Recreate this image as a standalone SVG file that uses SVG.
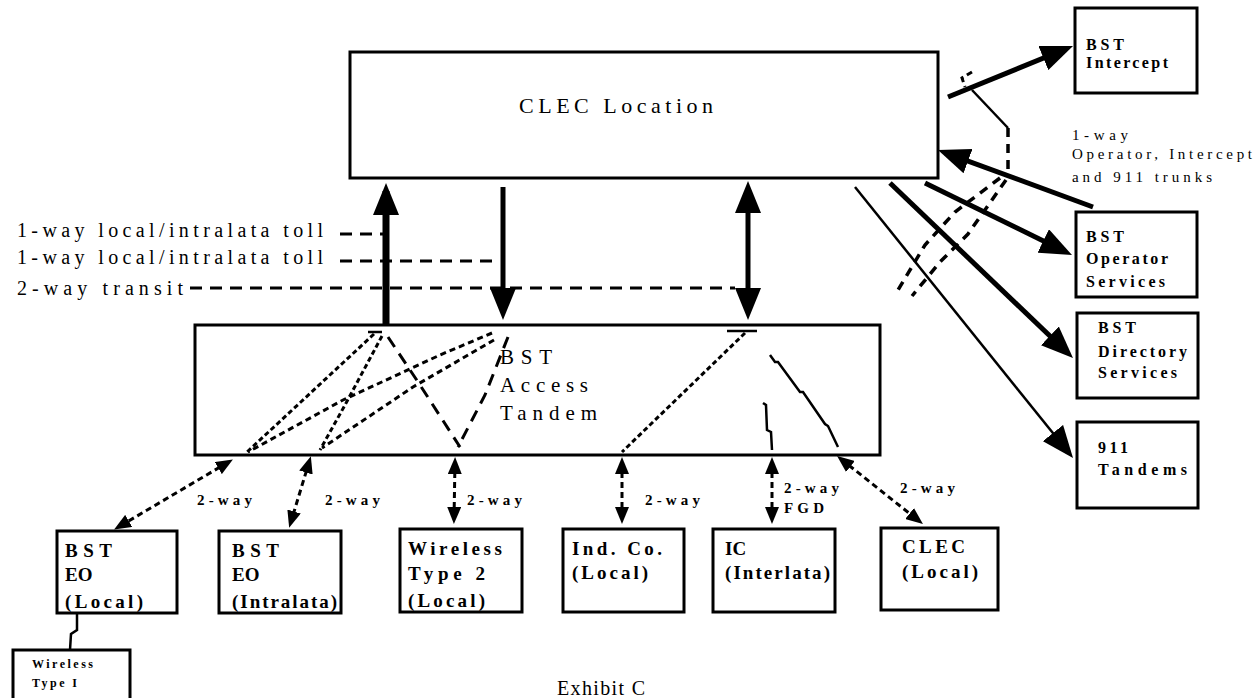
<svg xmlns="http://www.w3.org/2000/svg" width="1259" height="698" viewBox="0 0 1259 698">
<style>
  .box { fill: #fff; stroke: #000; stroke-width: 3; }
  text { font-family: "Liberation Serif", "Times New Roman", serif; fill: #000; }
  .lbl { font-size: 20px; }
  .bx { font-size: 19px; font-weight: bold; }
  .rb { font-size: 16px; font-weight: bold; }
  .sm { font-size: 15px; font-weight: bold; }
  .thick { stroke: #000; fill: none; stroke-width: 7; }
  .mid { stroke: #000; fill: none; stroke-width: 5; }
  .dash { stroke: #000; fill: none; stroke-width: 3; stroke-dasharray: 12 8; }
  .dash2 { stroke: #000; fill: none; stroke-width: 3; stroke-dasharray: 6 4; }
  .dash3 { stroke: #000; fill: none; stroke-width: 3.5; stroke-dasharray: 9 7; }
  .dot { stroke: #000; fill: none; stroke-width: 3; stroke-dasharray: 5 3; }
  .thin { stroke: #000; fill: none; stroke-width: 2.5; }
</style>
<defs>
  <marker id="big" markerUnits="userSpaceOnUse" markerWidth="32" markerHeight="26" refX="24" refY="13" orient="auto-start-reverse" viewBox="0 0 32 26">
    <path d="M0,0 L32,13 L0,26 z" fill="#000"/>
  </marker>
  <marker id="small" markerUnits="userSpaceOnUse" markerWidth="17" markerHeight="14" refX="12" refY="7" orient="auto-start-reverse" viewBox="0 0 17 14">
    <path d="M0,0 L17,7 L0,14 z" fill="#000"/>
  </marker>
</defs>
<rect width="1259" height="698" fill="#fff"/>

<g id="clec-location">
  <rect class="box" x="350" y="52" width="588" height="126"/>
  <text x="519" y="113" font-size="22" textLength="194" lengthAdjust="spacing">CLEC Location</text>
</g>

<g id="access-tandem">
  <rect class="box" x="195" y="325" width="685" height="130"/>
  <text x="500" y="364" font-size="21" textLength="52" lengthAdjust="spacing">BST</text>
  <text x="500" y="392" font-size="21" textLength="88" lengthAdjust="spacing">Access</text>
  <text x="500" y="420" font-size="21" textLength="97" lengthAdjust="spacing">Tandem</text>
</g>

<g id="bst-intercept">
  <rect class="box" x="1075" y="8" width="122" height="85"/>
  <text class="rb" x="1086" y="50" textLength="38" lengthAdjust="spacing">BST</text>
  <text class="rb" x="1086" y="68" textLength="82" lengthAdjust="spacing">Intercept</text>
</g>

<g id="bst-operator">
  <rect class="box" x="1076" y="212" width="121" height="85"/>
  <text class="rb" x="1086" y="242" textLength="38" lengthAdjust="spacing">BST</text>
  <text class="rb" x="1086" y="264" textLength="82" lengthAdjust="spacing">Operator</text>
  <text class="rb" x="1086" y="287" textLength="79" lengthAdjust="spacing">Services</text>
</g>

<g id="bst-directory">
  <rect class="box" x="1077" y="313" width="121" height="85"/>
  <text class="rb" x="1098" y="333" textLength="38" lengthAdjust="spacing">BST</text>
  <text class="rb" x="1098" y="357" textLength="89" lengthAdjust="spacing">Directory</text>
  <text class="rb" x="1098" y="378" textLength="79" lengthAdjust="spacing">Services</text>
</g>

<g id="tandems-911">
  <rect class="box" x="1077" y="422" width="121" height="86"/>
  <text class="rb" x="1098" y="453" textLength="30" lengthAdjust="spacing">911</text>
  <text class="rb" x="1098" y="475" textLength="89" lengthAdjust="spacing">Tandems</text>
</g>

<g id="bst-eo-local">
  <rect class="box" x="57" y="531" width="120" height="82"/>
  <text class="bx" x="65" y="557" textLength="47" lengthAdjust="spacing">BST</text>
  <text class="bx" x="65" y="581">EO</text>
  <text class="bx" x="65" y="608" textLength="78" lengthAdjust="spacing">(Local)</text>
</g>

<g id="bst-eo-intralata">
  <rect class="box" x="219" y="531" width="122" height="82"/>
  <text class="bx" x="232" y="557" textLength="47" lengthAdjust="spacing">BST</text>
  <text class="bx" x="232" y="581">EO</text>
  <text class="bx" x="232" y="608" textLength="105" lengthAdjust="spacing">(Intralata)</text>
</g>

<g id="wireless-type2">
  <rect class="box" x="400" y="529" width="122" height="83"/>
  <text class="bx" x="408" y="555" textLength="94" lengthAdjust="spacing">Wireless</text>
  <text class="bx" x="408" y="580" textLength="77" lengthAdjust="spacing">Type 2</text>
  <text class="bx" x="408" y="607" textLength="77" lengthAdjust="spacing">(Local)</text>
</g>

<g id="ind-co">
  <rect class="box" x="563" y="529" width="121" height="83"/>
  <text class="bx" x="572" y="555" textLength="90" lengthAdjust="spacing">Ind. Co.</text>
  <text class="bx" x="572" y="579" textLength="76" lengthAdjust="spacing">(Local)</text>
</g>

<g id="ic-interlata">
  <rect class="box" x="713" y="529" width="122" height="83"/>
  <text class="bx" x="725" y="555">IC</text>
  <text class="bx" x="725" y="579" textLength="105" lengthAdjust="spacing">(Interlata)</text>
</g>

<g id="clec-local">
  <rect class="box" x="881" y="528" width="117" height="82"/>
  <text class="bx" x="902" y="553" textLength="63" lengthAdjust="spacing">CLEC</text>
  <text class="bx" x="902" y="578" textLength="76" lengthAdjust="spacing">(Local)</text>
</g>

<g id="wireless-type1">
  <rect class="box" x="13" y="650" width="117" height="60"/>
  <text x="32" y="668" font-size="12" font-weight="bold" textLength="61" lengthAdjust="spacing">Wireless</text>
  <text x="32" y="687" font-size="12" font-weight="bold" textLength="45" lengthAdjust="spacing">Type I</text>
</g>

<g id="labels">
  <text class="lbl" x="17" y="237" textLength="306" lengthAdjust="spacing">1-way local/intralata toll</text>
  <text class="lbl" x="17" y="264" textLength="306" lengthAdjust="spacing">1-way local/intralata toll</text>
  <text class="lbl" x="17" y="295" textLength="166" lengthAdjust="spacing">2-way transit</text>
  <text x="1072" y="140" font-size="15" textLength="56" lengthAdjust="spacing">1-way</text>
  <text x="1072" y="159" font-size="15" textLength="180" lengthAdjust="spacing">Operator, Intercept</text>
  <text x="1072" y="182" font-size="15" textLength="140" lengthAdjust="spacing">and 911 trunks</text>
  <text class="sm" x="197" y="505" textLength="55" lengthAdjust="spacing">2-way</text>
  <text class="sm" x="325" y="505" textLength="55" lengthAdjust="spacing">2-way</text>
  <text class="sm" x="467" y="505" textLength="55" lengthAdjust="spacing">2-way</text>
  <text class="sm" x="645" y="505" textLength="55" lengthAdjust="spacing">2-way</text>
  <text class="sm" x="784" y="493" textLength="55" lengthAdjust="spacing">2-way</text>
  <text class="sm" x="784" y="513" textLength="40" lengthAdjust="spacing">FGD</text>
  <text class="sm" x="900" y="493" textLength="55" lengthAdjust="spacing">2-way</text>
  <text x="557" y="695" font-size="20" textLength="88" lengthAdjust="spacing">Exhibit C</text>
</g>

<g id="connectors">
  <!-- vertical trunks CLEC Location <-> Tandem -->
  <line class="thick" x1="386" y1="326" x2="386" y2="191" marker-end="url(#big)"/>
  <line class="mid" x1="503" y1="187" x2="503" y2="312" marker-end="url(#big)"/>
  <line class="mid" x1="748" y1="189" x2="748" y2="312" marker-start="url(#big)" marker-end="url(#big)"/>

  <!-- legend dashed leaders -->
  <line class="dash" x1="340" y1="234" x2="386" y2="234"/>
  <line class="dash" x1="340" y1="261" x2="494" y2="261"/>
  <line class="dash" x1="190" y1="288" x2="735" y2="288" stroke-dasharray="22 10"/>

  <!-- routes inside tandem -->
  <line class="thin" x1="368" y1="332" x2="382" y2="332"/>
  <path class="dot" d="M374,334 L247,452"/>
  <path class="dot" d="M382,336 L345,405 L320,450"/>
  <path class="dash2" d="M492,333 L440,355 L343,400 L248,452"/>
  <path class="dash2" d="M494,340 L413,387 L322,448"/>
  <path class="dash" d="M388,337 L420,385 L460,447"/>
  <path class="dash" d="M508,337 L485,395 L458,447"/>
  <line class="thin" x1="727" y1="331" x2="757" y2="331"/>
  <path class="dot" d="M745,333 L622,452"/>
  <path class="thin" d="M770,355 L775,362 L778,362 L800,392 L803,392 L825,424 L828,426 L838,447"/>
  <path class="thin" d="M763,403 L766,405 L767,430 L771,432 L772,450"/>

  <!-- 2-way links tandem <-> offices -->
  <line class="dash2" x1="228.6" y1="462" x2="118.4" y2="527" marker-start="url(#small)" marker-end="url(#small)"/>
  <line class="dash2" x1="309.4" y1="461" x2="290.6" y2="523" marker-start="url(#small)" marker-end="url(#small)"/>
  <line class="dash2" x1="455" y1="462" x2="454" y2="519" marker-start="url(#small)" marker-end="url(#small)"/>
  <line class="dash2" x1="622" y1="462" x2="622" y2="519" marker-start="url(#small)" marker-end="url(#small)"/>
  <line class="dash2" x1="772" y1="462" x2="772" y2="519" marker-start="url(#small)" marker-end="url(#small)"/>
  <line class="dash2" x1="841" y1="459" x2="919" y2="521" marker-start="url(#small)" marker-end="url(#small)"/>

  <!-- BST EO local to Wireless Type I -->
  <path class="thin" stroke-width="3.5" d="M77,613 L77,630 L71,634 L70,650"/>

  <!-- right side trunks -->
  <line class="mid" x1="948" y1="97" x2="1065.6" y2="49" marker-end="url(#big)"/>
  <line class="mid" x1="1093" y1="207" x2="945.5" y2="152.8" marker-end="url(#big)"/>
  <line class="mid" x1="925" y1="183" x2="1064.8" y2="251.5" marker-end="url(#big)"/>
  <line class="mid" x1="890" y1="183" x2="1067.2" y2="352.5" marker-end="url(#big)"/>
  <line class="thin" stroke-width="3" x1="855" y1="187" x2="1068" y2="451.8" marker-end="url(#big)"/>

  <!-- operator/intercept/911 bracket -->
  <path class="dash2" d="M972,72 L962,78 L965,87"/>
  <line class="thin" stroke-width="2" x1="972" y1="90" x2="1008" y2="128"/>
  <line class="dash3" x1="1008" y1="128" x2="1008" y2="175"/>
  <path class="dash3" d="M1000,178 L955,212 L925,245 L898,290"/>
  <path class="dash3" d="M1006,180 L968,234 L940,262 L912,296"/>
</g>
</svg>
